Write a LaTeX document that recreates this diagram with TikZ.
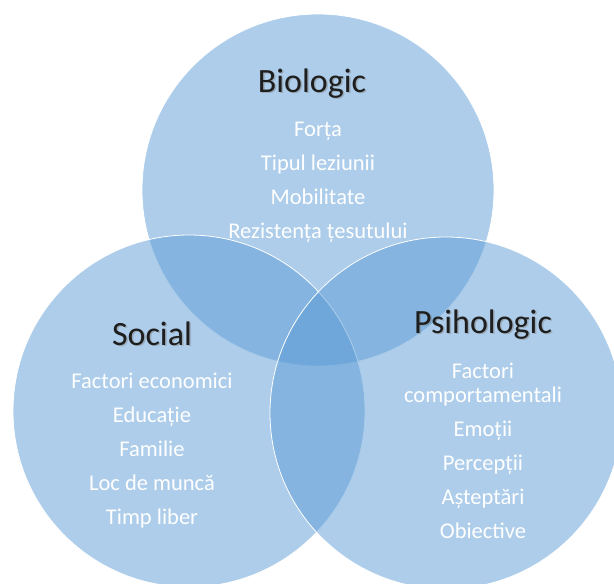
\documentclass[tikz,border=0pt]{standalone}
\usepackage{fontspec}
\setmainfont{Carlito}
\definecolor{setblue}{HTML}{5B9BD5}
\definecolor{headtext}{HTML}{1E1E1E}

\begin{document}
\begin{tikzpicture}[x=1pt, y=-1pt,
  circ/.style={circle, draw=white, line width=0.8pt, fill=setblue, fill opacity=0.5, minimum size=352pt, inner sep=0pt},
  head/.style={anchor=base, font=\fontsize{34}{40}\selectfont, text=headtext},
  headshadow/.style={head, text=black!50, opacity=0.45},
  entry/.style={anchor=base, font=\fontsize{22.5}{27}\selectfont, text=white}
]
\useasboundingbox (0,0) rectangle (614,584);

% --- the three sets ---
\node[circ] (bio) at (318,190) {};
\node[circ] (soc) at (189,411) {};
\node[circ] (psi) at (446,413) {};

% --- Biologic ---
\node[headshadow] (bioS) at (313.5,93.5) {Biologic};
\node[head] (bioT) at (312,92) {Biologic};
\node[entry] (b1) at (318,136) {Forța};
\node[entry] (b2) at (318,170) {Tipul leziunii};
\node[entry] (b3) at (318,204) {Mobilitate};
\node[entry] (b4) at (318,238) {Rezistența țesutului};

% --- Social ---
\node[headshadow] (socS) at (153.5,346.5) {Social};
\node[head] (socT) at (152,345) {Social};
\node[entry] (s1) at (152,388) {Factori economici};
\node[entry] (s2) at (152,422) {Educație};
\node[entry] (s3) at (152,456) {Familie};
\node[entry] (s4) at (152,490) {Loc de muncă};
\node[entry] (s5) at (152,524) {Timp liber};

% --- Psihologic ---
\node[headshadow] (psiS) at (484.5,334.5) {Psihologic};
\node[head] (psiT) at (483,333) {Psihologic};
\node[entry] (p1) at (483,378) {Factori};
\node[entry] (p2) at (483,402) {comportamentali};
\node[entry] (p3) at (483,436) {Emoții};
\node[entry] (p4) at (483,470) {Percepții};
\node[entry] (p5) at (483,504) {Așteptări};
\node[entry] (p6) at (483,538) {Obiective};

\end{tikzpicture}
\end{document}
